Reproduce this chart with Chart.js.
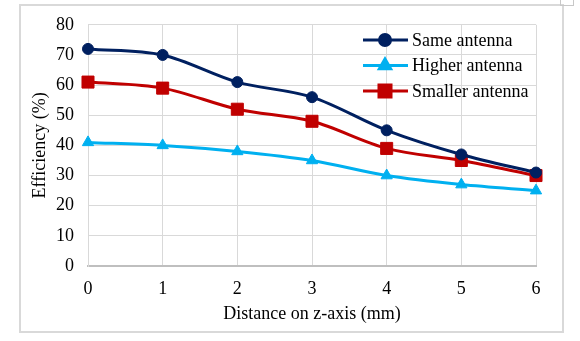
<!DOCTYPE html>
<html>
<head>
<meta charset="utf-8">
<script src="https://cdn.jsdelivr.net/npm/chart.js@4/dist/chart.umd.min.js"></script>
<style>
  html, body { margin: 0; padding: 0; background: #fff; }
  #wrap { width: 580px; height: 341px; }
</style>
</head>
<body>
<div id="wrap"><canvas id="chart" width="580" height="341"></canvas></div>
<script>
// Distances along z (mm)
const distances = ['0', '1', '2', '3', '4', '5', '6'];

// Efficiency (%) for each antenna setup
const sameAntenna = [72, 70, 61, 56, 45, 37, 31];
const higherAntenna = [41, 40, 38, 35, 30, 27, 25];
const smallerAntenna = [61, 59, 52, 48, 39, 35, 30];

const yTicks = [0, 10, 20, 30, 40, 50, 60, 70, 80];

const SERIF = "'Liberation Serif', 'Times New Roman', serif";
const FONT_SIZE = 18;

// Frame around the whole figure
const frame = {
  id: 'frame',
  beforeDraw(chart) {
    const ctx = chart.ctx;
    ctx.save();
    ctx.strokeStyle = '#d9d9d9';
    ctx.lineWidth = 2;
    ctx.strokeRect(20, 5, 543, 327);
    ctx.lineWidth = 1;
    ctx.strokeStyle = '#c8c8c8';
    ctx.strokeRect(560.5, -2.5, 13, 8);
    ctx.restore();
  }
};

// Legend drawn inside the plot, line + marker like the series
const innerLegend = {
  id: 'innerLegend',
  afterDatasetsDraw(chart) {
    const ctx = chart.ctx;
    ctx.save();
    chart.data.datasets.forEach((ds, i) => {
      const y = 40 + i * 25.5;
      ctx.strokeStyle = ds.borderColor;
      ctx.lineWidth = 3;
      ctx.beginPath();
      ctx.moveTo(363, y);
      ctx.lineTo(408, y);
      ctx.stroke();
      ctx.fillStyle = ds.backgroundColor;
      Chart.helpers.drawPoint(ctx, {
        pointStyle: ds.pointStyle,
        radius: ds.pointRadius,
        borderWidth: 1
      }, 385, y);
      ctx.fillStyle = '#000';
      ctx.font = FONT_SIZE + 'px ' + SERIF;
      ctx.textBaseline = 'middle';
      ctx.textAlign = 'left';
      ctx.fillText(ds.label, 412, y + 1);
    });
    ctx.restore();
  }
};

function series(label, data, color, style, radius) {
  return {
    label: label,
    data: data,
    borderColor: color,
    backgroundColor: color,
    borderWidth: 3,
    pointStyle: style,
    pointRadius: radius,
    pointHoverRadius: radius,
    pointBorderWidth: 1,
    cubicInterpolationMode: 'monotone'
  };
}

new Chart(document.getElementById('chart'), {
  type: 'line',
  data: {
    labels: distances,
    datasets: [
      series('Same antenna', sameAntenna, '#002060', 'circle', 5.5),
      series('Higher antenna', higherAntenna, '#00b0f0', 'triangle', 6.5),
      series('Smaller antenna', smallerAntenna, '#c00000', 'rect', 8.5)
    ]
  },
  options: {
    responsive: false,
    animation: false,
    layout: { padding: { left: 28, right: 44, top: 23, bottom: 0 } },
    plugins: {
      legend: { display: false },
      tooltip: { enabled: false }
    },
    scales: {
      x: {
        grid: { color: '#d9d9d9', lineWidth: 1, drawTicks: false },
        border: { color: '#bfbfbf', width: 2 },
        ticks: { color: '#000', padding: 12, font: { family: SERIF, size: FONT_SIZE } },
        title: {
          display: true,
          text: 'Distance on z-axis (mm)',
          color: '#000',
          font: { family: SERIF, size: FONT_SIZE },
          padding: { top: 0, bottom: 16 }
        },
        afterFit(scale) { scale.height = 75; }
      },
      y: {
        min: 0,
        max: 80,
        afterBuildTicks(scale) { scale.ticks = yTicks.map(v => ({ value: v })); },
        grid: { color: '#d9d9d9', lineWidth: 1, drawTicks: false },
        border: { color: '#d9d9d9', width: 1 },
        ticks: { color: '#000', padding: 14, font: { family: SERIF, size: FONT_SIZE } },
        title: {
          display: true,
          text: 'Efficiency (%)',
          color: '#000',
          font: { family: SERIF, size: FONT_SIZE },
          padding: { top: 1, bottom: 0 }
        },
        afterFit(scale) { scale.width = 60; }
      }
    }
  },
  plugins: [frame, innerLegend]
});
</script>
</body>
</html>
